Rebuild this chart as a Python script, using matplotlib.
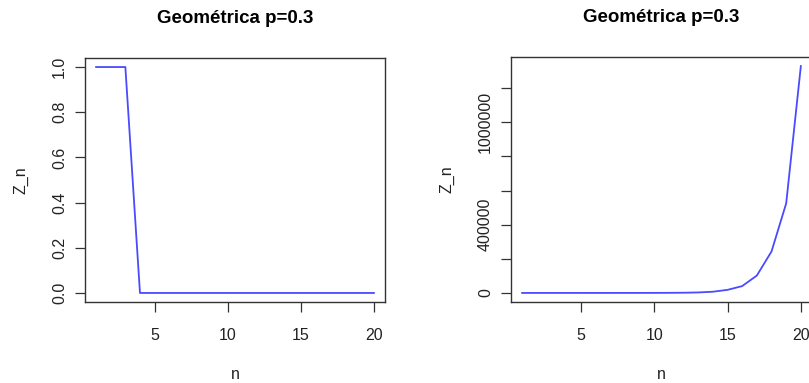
import matplotlib
matplotlib.use("Agg")
import matplotlib.pyplot as plt
import numpy as np

plt.rcParams['font.family'] = ['Liberation Sans', 'DejaVu Sans']

n = list(range(1, 21))
z_left = [1, 1, 1, 0, 0, 0, 0, 0, 0, 0, 0, 0, 0, 0, 0, 0, 0, 0, 0, 0]
z_right = [1, 2, 3, 5, 9, 15, 30, 60, 120, 250, 550, 1200, 2800, 7000,
           18000, 40000, 102000, 243000, 525000, 1330000]
title = "Geométrica p=0.3"
x_ticks = [5, 10, 15, 20]
left_yticks = [0.0, 0.2, 0.4, 0.6, 0.8, 1.0]
left_ylabels = ["0.0", "0.2", "0.4", "0.6", "0.8", "1.0"]
right_yticks = [0, 200000, 400000, 600000, 800000, 1000000, 1200000]
right_ylabels = ["0", "", "400000", "", "", "1000000", ""]

W, H = 809, 383
fig = plt.figure(figsize=(W / 100, H / 100), dpi=100)

def make_ax(left_px, right_px, top_px, bottom_px):
    return fig.add_axes([left_px / W, 1 - bottom_px / H,
                         (right_px - left_px) / W, (bottom_px - top_px) / H])

ax1 = make_ax(85, 385, 58, 302)
ax2 = make_ax(511, 812, 57, 302)

for ax, z, yt, yl in [(ax1, z_left, left_yticks, left_ylabels),
                      (ax2, z_right, right_yticks, right_ylabels)]:
    ax.plot(n, z, color='#4a4aff', lw=1.3)
    ax.set_xlim(0.24, 20.76)
    lo, hi = min(z), max(z)
    pad = (hi - lo) * 0.04
    ax.set_ylim(lo - pad, hi + pad)
    ax.set_xticks(x_ticks)
    ax.set_xticklabels([str(t) for t in x_ticks])
    ax.set_yticks(yt)
    ax.set_yticklabels(yl, rotation=90, va='center')
    ax.tick_params(axis='both', length=7, width=0.9, color='#333333',
                   labelsize=11.5, labelcolor='#222222', pad=6)
    ax.tick_params(axis='x', pad=12)
    for s in ax.spines.values():
        s.set_color('#333333')
        s.set_linewidth(1.0)
    ax.set_title(title, fontsize=13.5, fontweight='bold', pad=25)
    ax.set_xlabel("n", fontsize=11.5, color='#222222', labelpad=17)
    ax.set_ylabel("Z_n", fontsize=11.5, color='#222222', labelpad=17)

fig.savefig("out.png", dpi=100)
